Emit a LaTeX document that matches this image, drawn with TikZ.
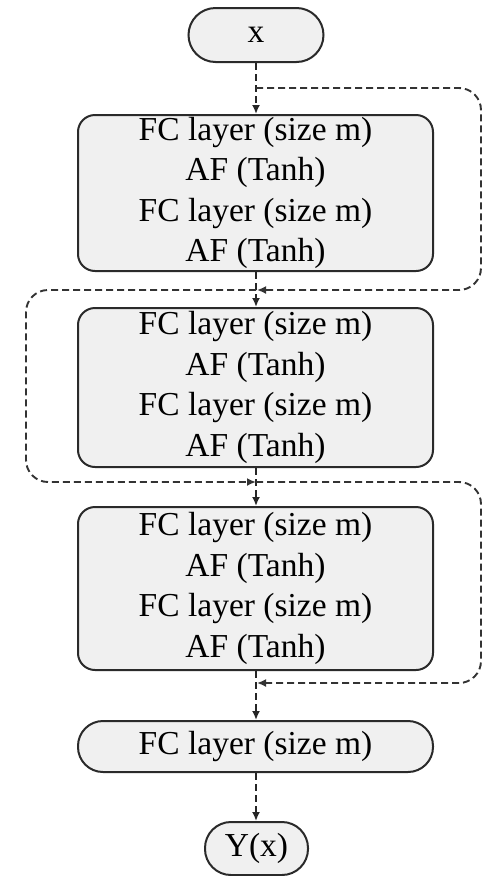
\documentclass[tikz,border=0pt]{standalone}
\usepackage{fontspec}
\setmainfont{Liberation Serif}
\usetikzlibrary{arrows.meta}
\definecolor{boxfill}{HTML}{F0F0F0}
\definecolor{boxdraw}{HTML}{2A2A2A}
\tikzset{
  blk/.style={draw=boxdraw, fill=boxfill, line width=2pt, rounded corners=17pt,
    minimum width=355pt, inner sep=0pt, align=center,
    font=\fontsize{33.5pt}{40.5pt}\selectfont},
  pill/.style={draw=boxdraw, fill=boxfill, line width=2pt, inner sep=0pt,
    font=\fontsize{33.5pt}{40.5pt}\selectfont},
  flow/.style={draw=black!85, line width=1.9pt, dash pattern=on 7pt off 4pt,
    -{Latex[length=9pt,width=8pt]}},
  skip/.style={draw=black!80, line width=1.9pt, dash pattern=on 7pt off 4pt,
    rounded corners=22pt, -{Latex[length=9pt,width=8pt]}}
}
\begin{document}
\begin{tikzpicture}[x=1pt,y=-1pt]
\useasboundingbox (0,0) rectangle (485,876);
\node[pill, minimum width=135pt, minimum height=54pt, rounded corners=27pt] (xin) at (256,35) {x};
\node[blk, minimum height=156pt] (b1) at (255.5,193) {FC layer (size m)\\AF (Tanh)\\FC layer (size m)\\AF (Tanh)};
\node[blk, minimum height=159pt] (b2) at (255.5,387.5) {FC layer (size m)\\AF (Tanh)\\FC layer (size m)\\AF (Tanh)};
\node[blk, minimum height=163pt] (b3) at (255.5,588.5) {FC layer (size m)\\AF (Tanh)\\FC layer (size m)\\AF (Tanh)};
\node[blk, minimum height=51pt, rounded corners=25pt] (fc) at (255.5,746.5) {FC layer (size m)};
\node[pill, minimum width=103pt, minimum height=53pt, rounded corners=26pt] (yout) at (256.5,848.5) {Y(x)};
\coordinate (j1) at (256,88);
\coordinate (j2) at (256,290);
\coordinate (j3) at (256,482);
\coordinate (j4) at (256,683);
\coordinate (r1) at (481,88);
\coordinate (r2) at (481,290);
\coordinate (l2) at (26,290);
\coordinate (l3) at (26,482);
\coordinate (r3) at (481,482);
\coordinate (r4) at (481,683);
\draw[flow] (xin.south) -- (b1.north -| xin.south);
\draw[flow] (b1.south -| xin.south) -- (b2.north -| xin.south);
\draw[flow] (b2.south -| xin.south) -- (b3.north -| xin.south);
\draw[flow] (b3.south -| xin.south) -- (fc.north -| xin.south);
\draw[flow] (fc.south -| xin.south) -- (yout.north -| xin.south);
\draw[skip] (j1) -- (r1) -- (r2) -- ([xshift=1pt]j2);
\draw[skip] (j2) -- (l2) -- (l3) -- (j3);
\draw[skip] (j3) -- (r3) -- (r4) -- ([xshift=1pt]j4);
\end{tikzpicture}
\end{document}
